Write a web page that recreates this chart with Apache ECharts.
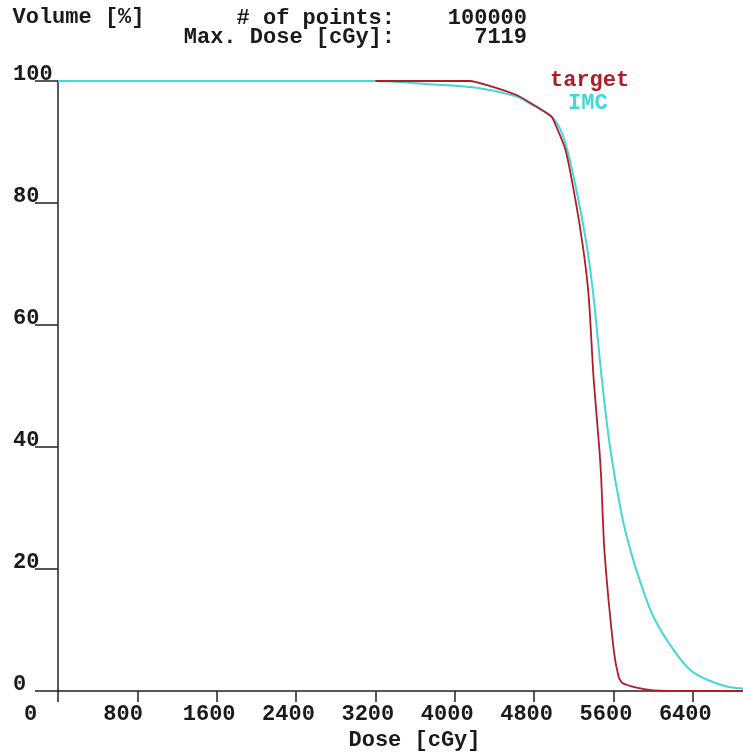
<!DOCTYPE html>
<html>
<head>
<meta charset="utf-8">
<script src="https://cdn.jsdelivr.net/npm/echarts@6/dist/echarts.min.js"></script>
<style>
html,body{margin:0;padding:0;background:#fff;}
#chart{width:743px;height:752px;}
</style>
</head>
<body>
<div id="chart"></div>
<script>
// ---- data ----
const imcDose   = [0, 3200, 3710, 4220, 4620, 4760, 4965, 5066, 5145, 5246, 5337, 5402, 5483, 5569, 5687, 5772, 5873, 6004, 6206, 6377, 6549, 6751, 6905];
const imcVolume = [100, 100, 99.5, 98.9, 97.5, 96.3, 94.3, 92.0, 88.0, 80.5, 72.3, 64.1, 51.0, 39.5, 28.5, 23.0, 17.7, 12.1, 6.7, 3.4, 1.8, 0.7, 0.4];
const targetDose   = [3200, 4150, 4349, 4622, 4763, 4965, 4995, 5116, 5216, 5296, 5350, 5400, 5458, 5475, 5508, 5602, 5652, 5689, 5843, 6004, 6347, 6905];
const targetVolume = [100, 100, 99.2, 97.7, 96.4, 94.3, 93.6, 88.7, 80.5, 72.3, 64.6, 51.0, 39.5, 35.1, 23.0, 6.7, 2.3, 1.3, 0.5, 0.1, 0, 0];
const seriesNames = ['target', 'IMC'];
const headerLabels = ['# of points:', 'Max. Dose [cGy]:'];
const headerValues = ['100000', '7119'];
const doseMax = 6905;

const RED = '#ad1e2a';
const CYAN = '#45d6d6';
const FONT = 'Liberation Mono';
const FS = 22;
const TXT = '#1a1a1a';

const zip = (xs, ys) => xs.map((x, i) => [x, ys[i]]);
const txt = (extra) => Object.assign({fontFamily: FONT, fontWeight: 'bold', fontSize: FS, color: TXT}, extra || {});

const chart = echarts.init(document.getElementById('chart'), null, {renderer: 'canvas'});
chart.setOption({
  backgroundColor: '#ffffff',
  animation: false,
  grid: {left: 58, right: 0, top: 81, bottom: 61, containLabel: false, outerBoundsMode: 'none'},
  legend: {
    orient: 'vertical', left: 540, top: 64, itemGap: 1, itemWidth: 0, itemHeight: 0,
    selectedMode: false,
    data: [
      {name: seriesNames[0], icon: 'none', textStyle: {color: RED}},
      {name: seriesNames[1], icon: 'none', textStyle: {color: CYAN, padding: [0, 0, 0, 18]}}
    ],
    textStyle: {fontFamily: FONT, fontWeight: 'bold', fontSize: FS}
  },
  xAxis: {
    type: 'value', min: 0, max: doseMax, interval: 800,
    name: 'Dose [cGy]', nameLocation: 'middle', nameGap: 37,
    nameTextStyle: txt({padding: [0, 0, 0, 28]}),
    axisLine: {show: true, lineStyle: {color: '#222', width: 1.5}},
    axisTick: {show: true, length: 11, lineStyle: {color: '#222', width: 1.5}},
    splitLine: {show: false},
    axisLabel: txt({
      margin: 12, showMaxLabel: false,
      formatter: v => '{a|' + v + '}',
      rich: {a: txt({width: 68, align: 'left'})}
    })
  },
  yAxis: {
    type: 'value', min: 0, max: 100, interval: 20,
    name: 'Volume [%]', nameLocation: 'end', nameGap: 53,
    nameTextStyle: txt({align: 'center', padding: [0, 0, 0, 41]}),
    axisLine: {show: true, lineStyle: {color: '#222', width: 1.5}},
    axisTick: {show: true, length: 23, lineStyle: {color: '#222', width: 1.5}},
    splitLine: {show: false},
    axisLabel: txt({align: 'left', margin: 45, verticalAlign: 'bottom', lineHeight: 14})
  },
  graphic: [
    {type: 'text', x: 395, y: 18, style: {text: headerLabels[0], align: 'right', verticalAlign: 'middle', fontFamily: FONT, fontWeight: 'bold', fontSize: FS, fill: TXT}},
    {type: 'text', x: 395, y: 37, style: {text: headerLabels[1], align: 'right', verticalAlign: 'middle', fontFamily: FONT, fontWeight: 'bold', fontSize: FS, fill: TXT}},
    {type: 'text', x: 527, y: 18, style: {text: headerValues[0], align: 'right', verticalAlign: 'middle', fontFamily: FONT, fontWeight: 'bold', fontSize: FS, fill: TXT}},
    {type: 'text', x: 527, y: 37, style: {text: headerValues[1], align: 'right', verticalAlign: 'middle', fontFamily: FONT, fontWeight: 'bold', fontSize: FS, fill: TXT}}
  ],
  series: [
    {
      name: seriesNames[1], type: 'line', data: zip(imcDose, imcVolume),
      showSymbol: false, smooth: 0.35, z: 2,
      lineStyle: {color: CYAN, width: 2}, itemStyle: {color: CYAN}
    },
    {
      name: seriesNames[0], type: 'line', data: zip(targetDose, targetVolume),
      showSymbol: false, smooth: 0.2, z: 3,
      lineStyle: {color: RED, width: 1.8}, itemStyle: {color: RED}
    }
  ]
});
</script>
</body>
</html>
